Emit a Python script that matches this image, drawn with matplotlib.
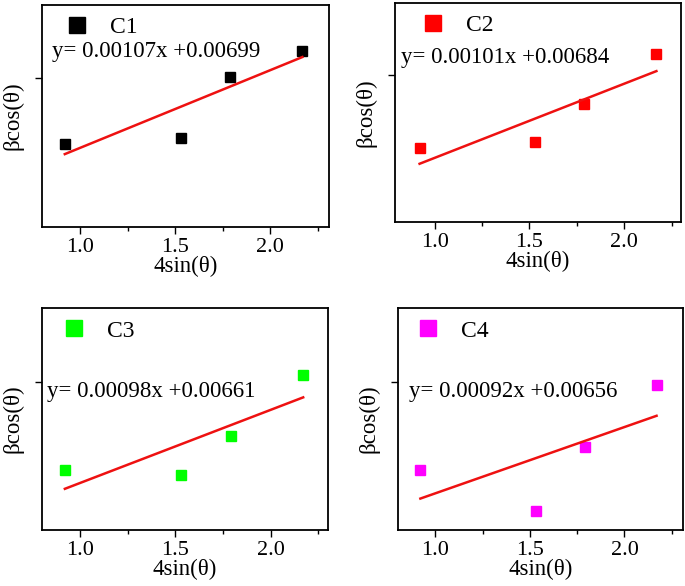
import numpy as np
import matplotlib
matplotlib.use("Agg")
import matplotlib.pyplot as plt
from matplotlib.ticker import MultipleLocator

plt.rcParams['font.family'] = ['Liberation Serif', 'DejaVu Serif']

# data
x = [0.92, 1.53, 1.79, 2.17]
names = ['C1', 'C2', 'C3', 'C4']
colors = ['black', '#ff0000', '#00ff00', '#ff00ff']
y_c1 = [0.00812, 0.00820, 0.00904, 0.00940]
y_c2 = [0.00798, 0.00807, 0.00859, 0.00926]
y_c3 = [0.00777, 0.00770, 0.00822, 0.00904]
y_c4 = [0.00780, 0.00724, 0.00812, 0.00898]
slopes = [0.00107, 0.00101, 0.00098, 0.00092]
intercepts = [0.00699, 0.00684, 0.00661, 0.00656]
ys = [y_c1, y_c2, y_c3, y_c4]

# layout
positions = [
    [0.0613, 0.6126, 0.419, 0.379],
    [0.5766, 0.6217, 0.4176, 0.3732],
    [0.0613, 0.0956, 0.4175, 0.3783],
    [0.5806, 0.0956, 0.4165, 0.3783],
]
xlims = [(0.8, 2.31), (0.79, 2.3), (0.8, 2.3), (0.8, 2.31)]
ylims = [(0.00697, 0.01003), (0.00698, 0.00996), (0.00696, 0.00993), (0.00697, 0.01005)]
yticks = [0.00902, 0.00898, 0.00894, 0.00902]
eq_pos = [(0.035, 0.79), (0.021, 0.753), (0.016, 0.624), (0.041, 0.624)]
leg_x = [0.031, 0.042, 0.021, 0.014]

fig = plt.figure(figsize=(6.85, 5.86), dpi=100)

for i in range(4):
    ax = fig.add_axes(positions[i])
    ax.plot(x, ys[i], 's', color=colors[i], markersize=7, label=names[i])
    xl = np.array([x[0], x[-1]])
    ax.plot(xl, slopes[i] * xl + intercepts[i], color='#ee1111', lw=1.8)

    ax.set_xlim(xlims[i])
    ax.set_ylim(ylims[i])
    ax.xaxis.set_major_locator(MultipleLocator(0.5))
    ax.xaxis.set_minor_locator(MultipleLocator(0.25))
    ax.set_xticklabels([], minor=True)
    ax.xaxis.set_major_formatter(matplotlib.ticker.FormatStrFormatter('%.1f'))
    ax.set_yticks([yticks[i]])
    ax.set_yticklabels([])
    ax.tick_params(direction='out', length=5, width=1, labelsize=16, pad=3)
    ax.tick_params(which='minor', direction='out', length=3, width=1)
    for s in ax.spines.values():
        s.set_linewidth(1.3)

    ax.set_xlabel('4sin(\u03b8)', fontsize=16.5, labelpad=-1)
    ax.set_ylabel('\u03b2cos(\u03b8)', fontsize=16.5, labelpad=5)

    ax.text(eq_pos[i][0], eq_pos[i][1],
            'y= %.5fx +%.5f' % (slopes[i], intercepts[i]),
            transform=ax.transAxes, fontsize=16.5, va='center', ha='left')

    ax.legend(loc='upper left', bbox_to_anchor=(leg_x[i], 1.0), frameon=False,
              fontsize=17, markerscale=1.7, handlelength=1.2, handletextpad=0.8,
              borderaxespad=0.2, borderpad=0.3)

fig.savefig('out.png', dpi=100)
